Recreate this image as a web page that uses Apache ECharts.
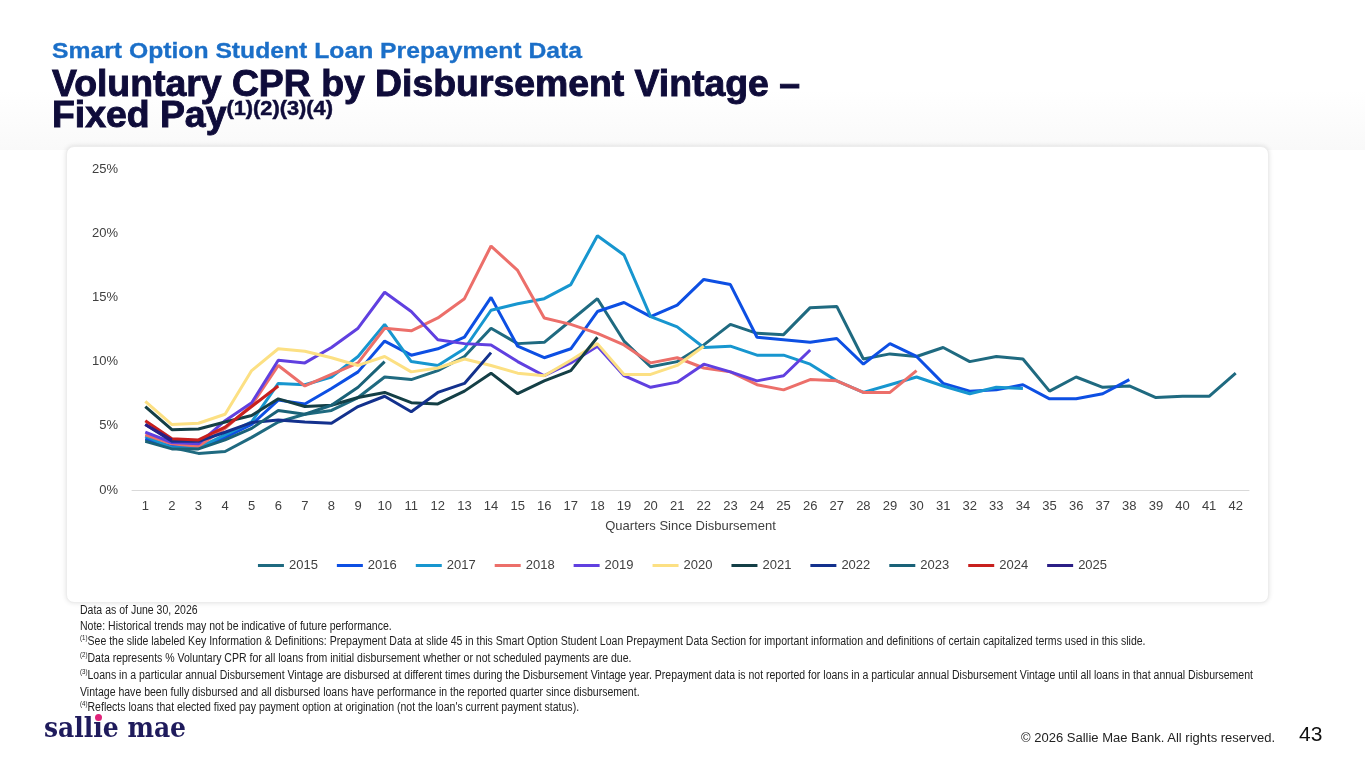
<!DOCTYPE html>
<html>
<head>
<meta charset="utf-8">
<script src="https://cdn.jsdelivr.net/npm/echarts@6/dist/echarts.min.js"></script>
<style>
html,body{margin:0;padding:0;width:1365px;height:768px;background:#fff;overflow:hidden;font-family:"Liberation Sans",Arial,sans-serif;}
#bgband{position:absolute;left:0;top:0;width:1365px;height:150px;background:linear-gradient(180deg,#ffffff 0%,#ffffff 60%,#f9f9f9 100%);}
#panel{position:absolute;left:66px;top:146px;width:1201px;height:455px;border-radius:8px;background:#fff;box-shadow:0 0 5px rgba(0,0,0,0.12);border:1px solid #ededed;}
#chart{position:absolute;left:0;top:0;width:1365px;height:768px;}
.fit{position:absolute;white-space:nowrap;transform-origin:0 0;}
#sub{left:52px;top:38px;font-weight:bold;font-size:22px;color:#1B6FC8;-webkit-text-stroke:0.3px #1B6FC8;}
#title{left:52px;top:68px;font-weight:bold;font-size:36px;line-height:31px;color:#0F0C3A;-webkit-text-stroke:0.9px #0F0C3A;}
#title sup{font-size:21px;vertical-align:0;position:relative;top:-12px;-webkit-text-stroke:0.5px #0F0C3A;}
#notes{left:80px;top:603px;font-family:"Liberation Sans Narrow","Arial Narrow","Liberation Sans",sans-serif;font-size:12px;line-height:15.7px;color:#222;}
#notes sup{font-size:7px;vertical-align:0;position:relative;top:-5px;}
#logo{left:44px;top:711px;font-family:"DejaVu Serif",serif;font-weight:bold;font-size:28px;color:#1F1B5C;}
#dot{position:absolute;left:0;top:0;width:7px;height:7px;border-radius:50%;background:#E0237A;}
#copy{top:731px;font-family:"Liberation Sans Narrow","Arial Narrow","Liberation Sans",sans-serif;font-size:12px;color:#222;}
#page{position:absolute;left:1299px;top:722px;font-size:21px;color:#111;}
</style>
</head>
<body>
<div id="bgband"></div>
<div id="panel"></div>
<div id="chart"></div>
<div id="sub" class="fit">Smart Option Student Loan Prepayment Data</div>
<div id="title" class="fit"><span id="t1">Voluntary CPR by Disbursement Vintage –</span><br>Fixed Pay<sup>(1)(2)(3)(4)</sup></div>
<div id="notes" class="fit">Data as of June 30, 2026<br>
Note: Historical trends may not be indicative of future performance.<br>
<sup>(1)</sup>See the slide labeled Key Information &amp; Definitions: Prepayment Data at slide 45 in this Smart Option Student Loan Prepayment Data Section for important information and definitions of certain capitalized terms used in this slide.<br>
<sup>(2)</sup>Data represents % Voluntary CPR for all loans from initial disbursement whether or not scheduled payments are due.<br>
<span id="n3"><sup>(3)</sup>Loans in a particular annual Disbursement Vintage are disbursed at different times during the Disbursement Vintage year. Prepayment data is not reported for loans in a particular annual Disbursement Vintage until all loans in that annual Disbursement</span><br>
Vintage have been fully disbursed and all disbursed loans have performance in the reported quarter since disbursement.<br>
<sup>(4)</sup>Reflects loans that elected fixed pay payment option at origination (not the loan's current payment status).</div>
<div id="logo" class="fit">sall<span id="ichar">ı</span>e mae</div>
<div id="dot"></div>
<div id="copy" class="fit">© 2026 Sallie Mae Bank. All rights reserved.</div>
<div id="page">43</div>
<script>
// ---- data ----
const quarters = ['1','2','3','4','5','6','7','8','9','10','11','12','13','14','15','16','17','18','19','20','21','22','23','24','25','26','27','28','29','30','31','32','33','34','35','36','37','38','39','40','41','42'];
const yTicks = [0, 5, 10, 15, 20, 25];
const vintages = ['2015','2016','2017','2018','2019','2020','2021','2022','2023','2024','2025'];
const v2015 = [3.9,3.3,2.85,3.0,4.1,5.3,5.9,6.2,7.2,8.8,8.6,9.3,10.4,12.6,11.4,11.5,13.2,14.9,11.6,9.6,10.0,11.3,12.9,12.2,12.1,14.2,14.3,10.2,10.6,10.4,11.1,10.0,10.4,10.2,7.7,8.8,8.0,8.1,7.2,7.3,7.3,9.1];
const v2016 = [4.0,3.4,3.3,4.1,5.1,7.0,6.7,7.9,9.2,11.6,10.5,11.0,11.9,15.0,11.2,10.3,11.0,13.9,14.6,13.5,14.4,16.4,16.0,11.9,11.7,11.5,11.8,9.8,11.4,10.4,8.3,7.7,7.8,8.2,7.1,7.1,7.5,8.6];
const v2017 = [4.2,3.3,3.3,4.3,5.3,8.3,8.2,8.8,10.4,12.9,10.0,9.7,11.0,14.0,14.5,14.9,16.0,19.8,18.3,13.5,12.7,11.1,11.2,10.5,10.5,9.8,8.5,7.6,8.2,8.8,8.1,7.5,8.0,7.9];
const v2018 = [4.3,3.6,3.4,4.8,6.6,9.7,8.1,9.0,9.9,12.6,12.4,13.4,14.9,19.0,17.1,13.4,12.9,12.2,11.3,9.9,10.3,9.5,9.2,8.2,7.8,8.6,8.5,7.6,7.6,9.3];
const v2019 = [4.5,3.7,3.6,5.4,6.8,10.1,9.9,11.1,12.6,15.4,13.9,11.7,11.4,11.3,10.0,8.9,9.9,11.2,8.9,8.0,8.4,9.8,9.2,8.5,8.9,10.9];
const v2020 = [6.9,5.1,5.2,5.9,9.3,11.0,10.8,10.3,9.7,10.4,9.2,9.5,10.2,9.7,9.1,8.9,10.1,11.4,9.0,9.0,9.7,11.2];
const v2021 = [6.5,4.7,4.75,5.3,5.8,7.1,6.5,6.6,7.2,7.6,6.8,6.7,7.7,9.1,7.5,8.5,9.3,11.9];
const v2022 = [5.1,3.8,3.8,4.5,5.25,5.45,5.3,5.2,6.5,7.3,6.1,7.6,8.3,10.7];
const v2023 = [3.8,3.2,3.2,3.9,4.8,6.2,5.9,6.6,8.0,10.0];
const v2024 = [5.4,4.0,3.9,4.9,6.5,8.1];
const v2025 = [5.1,3.9];
const seriesValues = [v2015,v2016,v2017,v2018,v2019,v2020,v2021,v2022,v2023,v2024,v2025];
// ---- style ----
const palette = ['#1F6A80','#0D4FE3','#1796CF','#EC6F6A','#6040E0','#FCE083','#143F46','#13318D','#1A6278','#C8201E','#2B1F86'];

const chart = echarts.init(document.getElementById('chart'), null, {renderer:'canvas'});
const font = '"Liberation Sans", Arial, sans-serif';
chart.setOption({
  animation:false,
  textStyle:{fontFamily:font},
  color:palette,
  grid:{left:132,right:116,top:169,bottom:278},
  legend:{
    data:vintages, left:'center', top:554, itemWidth:26, itemHeight:3, itemGap:19, icon:'rect',
    textStyle:{color:'#404040',fontSize:13,fontFamily:font}
  },
  xAxis:{
    type:'category', data:quarters, boundaryGap:true,
    axisLine:{lineStyle:{color:'#d9d9d9',width:1}}, axisTick:{show:false},
    axisLabel:{color:'#404040',fontSize:13,margin:10,interval:0},
    name:'Quarters Since Disbursement', nameLocation:'middle', nameGap:30,
    nameTextStyle:{color:'#404040',fontSize:13}
  },
  yAxis:{
    type:'value', min:yTicks[0], max:yTicks[yTicks.length-1], interval:5,
    axisLine:{show:false}, axisTick:{show:false}, splitLine:{show:false},
    axisLabel:{formatter:'{value}%',color:'#404040',fontSize:13,margin:14}
  },
  series: vintages.map((name,i)=>({
    name:name, type:'line', data:seriesValues[i], symbol:'none', showSymbol:false,
    lineStyle:{width:3,color:palette[i]}, itemStyle:{color:palette[i]},
    emphasis:{disabled:true}
  }))
});

// ---- fit text widths to layout ----
function scaleTo(el, measureEl, target){
  const w = measureEl.getBoundingClientRect().width;
  if (w>0) el.style.transform = 'scaleX(' + (target/w) + ')';
}
scaleTo(document.getElementById('sub'), document.getElementById('sub'), 530);
scaleTo(document.getElementById('title'), document.getElementById('t1'), 748);
scaleTo(document.getElementById('notes'), document.getElementById('n3'), 1173);
scaleTo(document.getElementById('logo'), document.getElementById('logo'), 142);
const copy = document.getElementById('copy');
(function(){
  const w = copy.getBoundingClientRect().width;
  const s = 254 / w;
  copy.style.left = (1275 - 254) + 'px';
  copy.style.transform = 'scaleX(' + s + ')';
})();
// pink dot over the "i" of the logo
(function(){
  const r = document.getElementById('ichar').getBoundingClientRect();
  const dot = document.getElementById('dot');
  dot.style.left = (r.left + r.width/2 - 3.5) + 'px';
  dot.style.top = (r.top + 3) + 'px';
})();
</script>
</body>
</html>
